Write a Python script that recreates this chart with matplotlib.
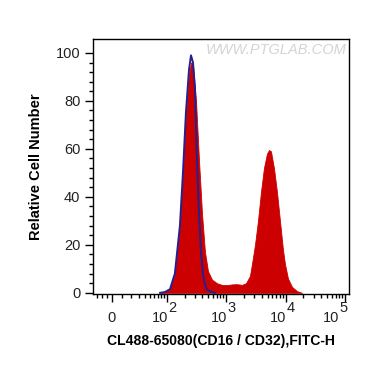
import numpy as np
import matplotlib
matplotlib.use("Agg")
import matplotlib.pyplot as plt
import matplotlib.transforms as mtransforms
from matplotlib.ticker import FixedLocator, FixedFormatter

plt.rcParams['font.family'] = ['Liberation Sans', 'DejaVu Sans']

# ---- data ----
red_x = [76, 92, 113, 137, 167, 188, 211, 238, 257, 278,
         312, 351, 394, 442, 497, 580, 704, 854, 1038, 1258,
         1527, 1854, 2164, 2524, 2727, 3066, 3441, 3865, 4337, 4876,
         5266, 5687, 6386, 7178, 8059, 9048, 9777, 10977, 12816, 15560,
         18876]
red_y = [0, 0.4, 1.5, 8, 28, 50, 74, 91, 96, 95,
         80, 55, 33, 17, 9, 5.5, 4, 3.3, 3.2, 3.5,
         3.6, 3.3, 4, 7, 12, 20, 30, 42, 52, 58,
         59.5, 59, 52, 42, 30, 18, 12, 6, 2.5, 0.7,
         0]

blue_x = [76, 92, 113, 137, 167, 188, 211, 238, 257, 278, 300, 324, 351,
          379, 409, 442, 478, 537, 651]
blue_y = [0, 0.3, 1.5, 8, 28, 50, 75, 93, 99, 96, 85, 55, 33,
          17, 8, 3.5, 1.5, 0.5, 0]

y_ticks = [0, 20, 40, 60, 80, 100]
x_ticks = [0, 1e2, 1e3, 1e4, 1e5]
x_tick_bases = ['0', '10', '10', '10', '10']
x_tick_exps = ['', '2', '3', '4', '5']
x_label = 'CL488-65080(CD16 / CD32),FITC-H'
y_label = 'Relative Cell Number'
watermark = 'WWW.PTGLAB.COM'

# ---- biexponential-like scale ----
W = 24.2
def fwd(x):
    return np.arcsinh(np.asarray(x, dtype=float) / W) / np.log(10)
def inv(y):
    return W * np.sinh(np.asarray(y, dtype=float) * np.log(10))

fig = plt.figure(figsize=(3.70, 3.67), dpi=100)
ax = fig.add_axes([93/370, 73/367, 256/370, 255/367])
ax.set_xscale('function', functions=(fwd, inv))

ax.fill_between(red_x, red_y, 0, color='#cc0000', linewidth=0.6, edgecolor='#cc0000', zorder=2)
ax.plot(blue_x, blue_y, color='#24208f', linewidth=1.4, zorder=3)

ax.set_xlim(-19.4, 1.166e5)
ax.set_ylim(-0.5, 105.8)

ax.xaxis.set_major_locator(FixedLocator(x_ticks))
ax.xaxis.set_major_formatter(FixedFormatter(x_tick_bases))
minors = [-15, -10, -5] + list(range(10, 100, 10))
for d in [100, 1000, 10000]:
    minors += [k * d for k in range(2, 10)]
ax.xaxis.set_minor_locator(FixedLocator(minors))
ax.yaxis.set_major_locator(FixedLocator(y_ticks))
ax.yaxis.set_minor_locator(FixedLocator([v for v in range(0, 101, 4) if v % 20 != 0]))

ax.tick_params(axis='both', which='major', length=6, width=1, labelsize=10.5,
               labelcolor='#222222', color='black')
ax.tick_params(axis='both', which='minor', length=3, width=1, color='black')
ax.tick_params(axis='x', which='major', pad=6.5)
ax.tick_params(axis='y', which='major', pad=3)

# shift power-of-ten base labels left, add full-size exponents
for i, lab in enumerate(ax.get_xticklabels()):
    if x_tick_exps[i]:
        dx = -6 if i == len(x_ticks) - 1 else 1
        lab.set_horizontalalignment('right')
        lab.set_transform(lab.get_transform() +
                          mtransforms.ScaledTranslation(dx/100, 0, fig.dpi_scale_trans))
        tr = mtransforms.blended_transform_factory(ax.transData, ax.transAxes) + \
            mtransforms.ScaledTranslation(dx/100, -14.5/100, fig.dpi_scale_trans)
        ax.text(x_ticks[i], 0, x_tick_exps[i], transform=tr, ha='left', va='center',
                fontsize=10.5, color='#222222')

for s in ax.spines.values():
    s.set_linewidth(1)

ax.set_xlabel(x_label, fontsize=10.1, fontweight='bold', labelpad=6)
ax.set_ylabel(y_label, fontsize=10.5, fontweight='bold', labelpad=9)

ax.text(0.99, 0.957, watermark, transform=ax.transAxes, ha='right', va='center',
        fontsize=10.5, color='#d4d4d4', style='italic')

fig.savefig('out.png', dpi=100)
